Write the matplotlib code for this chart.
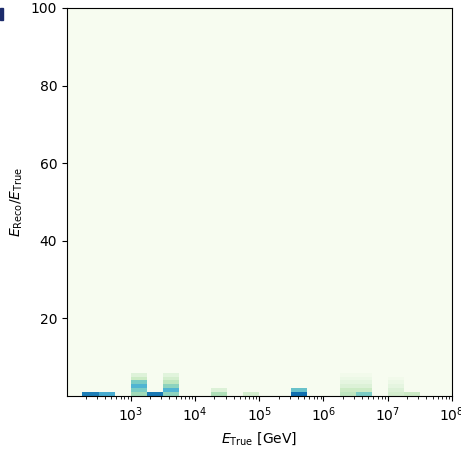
import numpy as np
import matplotlib.pyplot as plt

# log10 of the lower edge of each filled energy bin (bins are 0.25 decades wide)
col_log_edge = [2.25, 2.5, 3.0, 3.25, 3.5, 4.25, 4.75, 5.5, 6.25, 6.5, 7.0, 7.25]
# normalised density in the ratio bins 0-1, 1-2, ... 5-6 for each of those columns
col_values = [
    [0.80, 0.00, 0.00, 0.00, 0.00, 0.00],
    [0.65, 0.00, 0.00, 0.00, 0.00, 0.00],
    [0.40, 0.50, 0.62, 0.50, 0.25, 0.14],
    [0.82, 0.00, 0.00, 0.00, 0.00, 0.00],
    [0.45, 0.62, 0.45, 0.30, 0.20, 0.12],
    [0.35, 0.15, 0.00, 0.00, 0.00, 0.00],
    [0.20, 0.00, 0.00, 0.00, 0.00, 0.00],
    [0.85, 0.55, 0.00, 0.00, 0.00, 0.00],
    [0.30, 0.25, 0.15, 0.10, 0.06, 0.03],
    [0.50, 0.25, 0.15, 0.10, 0.06, 0.03],
    [0.20, 0.15, 0.10, 0.06, 0.03, 0.00],
    [0.25, 0.00, 0.00, 0.00, 0.00, 0.00],
]

x_edges = 10 ** np.arange(2.0, 8.0001, 0.25)
y_edges = np.arange(0, 101, 1)

H = np.zeros((len(y_edges) - 1, len(x_edges) - 1))
for lo, vals in zip(col_log_edge, col_values):
    i = int(round((lo - 2.0) / 0.25))
    H[:len(vals), i] = vals

fig = plt.figure(figsize=(4.61, 4.49), dpi=100)
ax = fig.add_axes([0.1453, 0.118, 0.8352, 0.8642])
ax.pcolormesh(x_edges, y_edges, H, cmap='GnBu', vmin=0, vmax=1)
ax.set_xscale('log')
# the 1e2 edge sits just outside, so its label is not drawn
ax.set_xlim(1.02e2, 1e8)
ax.set_ylim(0, 100)
ax.set_yticks([20, 40, 60, 80, 100])
ax.set_xlabel(r'$E_{\rm True}$ [GeV]')
ax.set_ylabel(r'$E_{\rm Reco}/E_{\rm True}$')

# small cropped element at the top left corner of the screenshot
fig.patches.append(plt.Rectangle((0, 1 - 20 / 449), 3 / 461, 12 / 449,
                                 transform=fig.transFigure, color='#1c2b6b'))

plt.savefig('out.png', dpi=100)
